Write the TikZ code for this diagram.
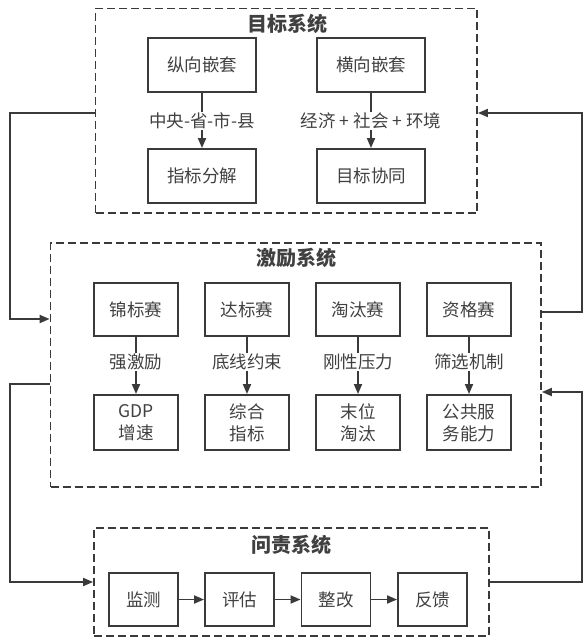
\documentclass[tikz,border=0pt]{standalone}
\usepackage{fontspec}
\setmainfont{Noto Sans CJK SC}
\usetikzlibrary{arrows.meta}
\definecolor{ink}{HTML}{3A3A3A}
\definecolor{txt}{HTML}{404040}
\begin{document}
\begin{tikzpicture}[x=1pt,y=-1pt,
  every node/.style={text=txt,font=\fontsize{17.5}{21}\selectfont},
  dashbox/.style={draw=ink,line width=1.8pt,dash pattern=on 8pt off 4pt,inner sep=0pt},
  sbox/.style={draw=ink,line width=1.9pt,inner sep=0pt,align=center},
  title/.style={font=\fontsize{20}{24}\selectfont\bfseries},
  lbl/.style={inner sep=1pt},
  ln/.style={draw=ink,line width=1.8pt},
  arr/.style={draw=ink,line width=1.8pt,-{Triangle[length=10pt,width=8pt]}}]
\useasboundingbox (0,0) rectangle (588,639);
% system boxes
\node[dashbox,minimum width=381.5,minimum height=204.5] (sysA) at (286.25,110.75) {};
\node[dashbox,minimum width=490.5,minimum height=244] (sysB) at (295.75,365) {};
\node[dashbox,minimum width=395,minimum height=108] (sysC) at (291.5,582) {};
\node[title] (tA) at (287,24) {目标系统};
\node[title] (tB) at (296,258) {激励系统};
\node[title] (tC) at (291,545) {问责系统};
% goal system
\node[sbox,minimum width=108,minimum height=54] (a1) at (202,65) {纵向嵌套};
\node[sbox,minimum width=108,minimum height=54] (a2) at (371,65) {横向嵌套};
\node[sbox,minimum width=108,minimum height=54] (a3) at (202,176) {指标分解};
\node[sbox,minimum width=108,minimum height=54] (a4) at (371,176) {目标协同};
\node[lbl] (la1) at (202,121) {中央-省-市-县};
\node[lbl] (la2) at (371,121) {经济 + 社会 + 环境};
\draw[ln] (a1) -- (la1);
\draw[arr] (la1) -- (a3);
\draw[ln] (a2) -- (la2);
\draw[arr] (la2) -- (a4);
% incentive system
\foreach \n/\x/\t/\l/\b in {1/136/锦标赛/强激励/GDP\\增速, 2/247/达标赛/底线约束/综合\\指标, 3/358/淘汰赛/刚性压力/末位\\淘汰, 4/469/资格赛/筛选机制/公共服\\务能力}{
  \node[sbox,minimum width=84,minimum height=53] (b\n) at (\x,309.5) {\t};
  \node[sbox,minimum width=84,minimum height=55,font=\fontsize{17.5}{22}\selectfont] (c\n) at (\x,422.5) {\b};
  \node[lbl] (lb\n) at (\x,362) {\l};
  \draw[ln] (b\n) -- (lb\n);
  \draw[arr] (lb\n) -- (c\n);
}
% accountability system
\node[sbox,minimum width=69,minimum height=53.5] (d1) at (143.5,599.5) {监测};
\node[sbox,minimum width=69,minimum height=53.5] (d2) at (239.5,599.5) {评估};
\node[sbox,minimum width=69,minimum height=53.5] (d3) at (336,599.5) {整改};
\node[sbox,minimum width=69,minimum height=53.5] (d4) at (432.5,599.5) {反馈};
\draw[arr] (d1) -- (d2);
\draw[arr] (d2) -- (d3);
\draw[arr] (d3) -- (d4);
% feedback loops
\draw[arr] (sysA.west |- 0,113) -- (10,113) -- (10,319) -- (sysB.west |- 0,319);
\draw[arr] (sysB.east |- 0,312) -- (582,312) -- (582,113) -- (sysA.east |- 0,113);
\draw[arr] (sysB.west |- 0,384) -- (10,384) -- (10,582) -- (sysC.west |- 0,582);
\draw[arr] (sysC.east |- 0,582) -- (582,582) -- (582,392) -- (sysB.east |- 0,392);
\end{tikzpicture}
\end{document}
